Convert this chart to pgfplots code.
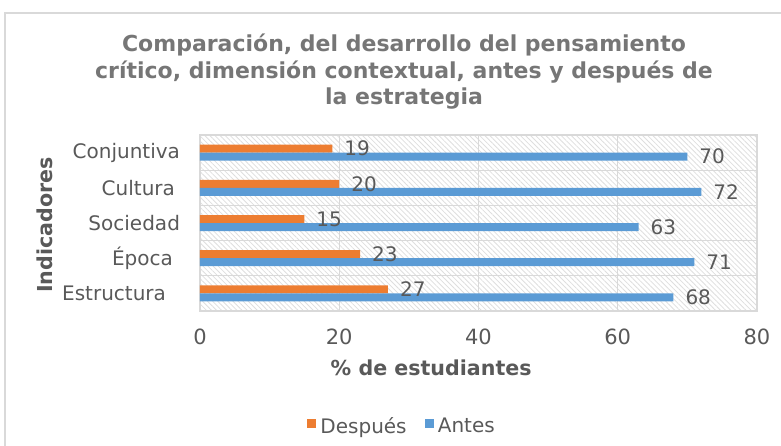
\documentclass[border=0pt]{standalone}
\usepackage{fontspec}
\setmainfont{DejaVu Sans}
\usepackage{pgfplots}
\pgfplotsset{compat=1.18}
\usetikzlibrary{patterns.meta}
\definecolor{orangebar}{RGB}{237,125,49}
\definecolor{bluebar}{RGB}{91,155,213}
\definecolor{gridgray}{RGB}{217,217,217}
\definecolor{txtgray}{RGB}{89,89,89}
\definecolor{titlegray}{RGB}{118,118,118}
\definecolor{hatch}{RGB}{222,222,222}

\begin{document}
\begin{tikzpicture}
\path[use as bounding box] (-100pt,-67pt) rectangle (290.5pt,155.5pt);
\draw[gridgray, line width=0.8pt] (-97.5pt,-70pt) -- (-97.5pt,149pt) -- (295pt,149pt);
\begin{axis}[
    at={(0,0)}, anchor=south west,
    scale only axis, width=278.5pt, height=88pt,
    xbar, bar width=4pt,
    axis background/.style={pattern={Lines[angle=-45,distance=1.8pt,line width=0.4pt]}, pattern color=hatch},
    xmin=0, xmax=80, xtick={0,20,...,80},
    ymin=-0.5, ymax=4.5, ytick={0,...,4},
    yticklabels={Estructura\kern7pt, Época\kern3.5pt, Sociedad, Cultura\kern2.5pt, Conjuntiva},
    minor ytick={0.5,1.5,2.5,3.5},
    xmajorgrids, yminorgrids,
    grid style={gridgray, line width=0.6pt},
    minor grid style={gridgray, line width=0.6pt},
    axis line style={gridgray, line width=0.6pt},
    major tick length=0pt, minor tick length=0pt,
    tick style={draw=none},
    /pgf/number format/assume math mode=true,
    ticklabel style={font=\fontsize{10.5}{12}\selectfont, text=txtgray},
    xticklabel style={yshift=-5.5pt},
    yticklabel style={font=\fontsize{10}{12}\selectfont, xshift=-6.5pt},
    xlabel={\% de estudiantes}, ylabel={Indicadores},
    label style={font=\bfseries\fontsize{10.3}{12}\selectfont, text=txtgray},
    xlabel style={at={(rel axis cs:0.415,-0.324)}, anchor=center},
    ylabel style={at={(rel axis cs:-0.278,0.489)}, anchor=center},
    nodes near coords,
    every node near coord/.append style={font=\fontsize{10}{12}\selectfont, text=txtgray, anchor=west, xshift=2.5pt},
    legend style={at={(rel axis cs:0.3645,-0.66)}, anchor=center, legend columns=2,
        draw=none, fill=none, font=\fontsize{10}{12}\selectfont, text=txtgray,
        /tikz/every even column/.append style={column sep=7pt}},
    legend image code/.code={\fill[#1] (0pt,-0.6pt) rectangle (4.6pt,4pt);},
]
\addplot[fill=orangebar, draw=none, bar shift=2pt] coordinates {
    (27,0) (23,1) (15,2) (20,3) (19,4)
};
\addplot[fill=bluebar, draw=none, bar shift=-2pt] coordinates {
    (68,0) (71,1) (63,2) (72,3) (70,4)
};
\legend{Después, Antes}
\end{axis}
\node[align=center, font=\bfseries\fontsize{11}{13.25}\selectfont, text=titlegray] at (102pt,119.5pt)
    {Comparación, del desarrollo del pensamiento\\crítico, dimensión contextual, antes y después de\\la estrategia};
\end{tikzpicture}
\end{document}
